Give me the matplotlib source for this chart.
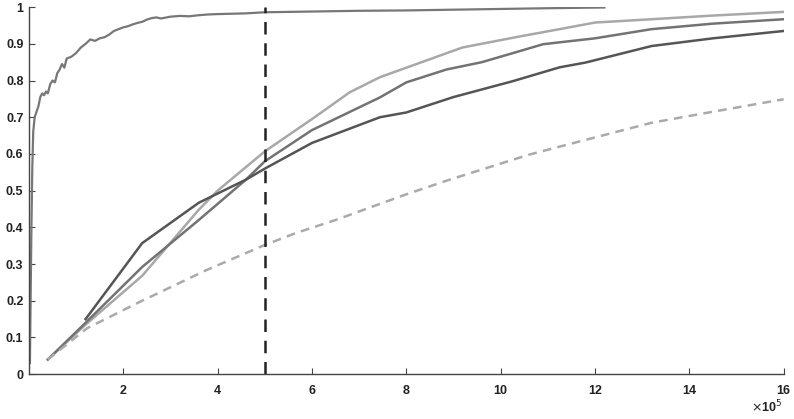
import numpy as np
import matplotlib
matplotlib.use("Agg")
import matplotlib.pyplot as plt

# top curve (noisy, saturates near 1)
top_x = [0.02, 0.03, 0.05, 0.07, 0.09, 0.12, 0.16, 0.2, 0.24, 0.28, 0.32, 0.36, 0.4, 0.45, 0.5,
         0.55, 0.6, 0.65, 0.7, 0.75, 0.8, 0.9, 1.0, 1.1, 1.2, 1.3, 1.4, 1.5, 1.6, 1.7, 1.8, 1.9,
         2.0, 2.1, 2.2, 2.3, 2.4, 2.5, 2.6, 2.7, 2.8, 3.0, 3.2, 3.4, 3.6, 3.8, 4.0, 4.3, 4.6,
         5.0, 6.0, 7.0, 8.0, 9.0, 10.0, 11.0, 12.2]
top_y = [0.03, 0.15, 0.38, 0.56, 0.66, 0.70, 0.715, 0.73, 0.755, 0.765, 0.76, 0.77, 0.765, 0.79, 0.80,
         0.795, 0.82, 0.83, 0.845, 0.835, 0.86, 0.865, 0.875, 0.89, 0.90, 0.912, 0.908, 0.915, 0.918, 0.925, 0.935, 0.94,
         0.945, 0.948, 0.953, 0.957, 0.96, 0.966, 0.97, 0.972, 0.969, 0.974, 0.976, 0.975, 0.978, 0.98, 0.981, 0.982, 0.983,
         0.986, 0.988, 0.99, 0.991, 0.993, 0.995, 0.997, 0.999]

light_x = [0.4, 1.2, 2.4, 3.6, 4.0, 5.0, 6.0, 6.8, 7.44, 8.0, 9.19, 10.4, 11.25, 12.0, 13.2, 14.5, 16.0]
light_y = [0.04, 0.135, 0.268, 0.448, 0.50, 0.607, 0.695, 0.768, 0.809, 0.835, 0.89, 0.92, 0.94, 0.958, 0.967, 0.977, 0.987]

mid_x = [0.4, 1.2, 2.4, 3.6, 4.6, 5.0, 6.0, 7.44, 8.0, 8.85, 9.6, 10.4, 10.9, 12.0, 13.2, 14.5, 16.0]
mid_y = [0.04, 0.14, 0.292, 0.42, 0.53, 0.58, 0.665, 0.754, 0.795, 0.83, 0.85, 0.88, 0.899, 0.915, 0.94, 0.955, 0.967]

dark_x = [1.2, 2.4, 3.6, 4.6, 5.0, 6.0, 7.44, 8.0, 9.0, 10.25, 11.25, 11.8, 13.2, 14.5, 16.0]
dark_y = [0.15, 0.357, 0.467, 0.53, 0.56, 0.63, 0.70, 0.713, 0.755, 0.798, 0.836, 0.849, 0.894, 0.915, 0.935]

dash_x = [0.4, 1.23, 2.35, 3.77, 5.0, 5.67, 6.5, 8.0, 8.92, 10.6, 12.0, 13.2, 14.5, 16.0]
dash_y = [0.04, 0.125, 0.197, 0.284, 0.352, 0.385, 0.42, 0.49, 0.53, 0.598, 0.645, 0.685, 0.715, 0.749]

vline_x = 5.0

plt.rcParams["font.family"] = ["Liberation Sans", "DejaVu Sans"]

fig = plt.figure(figsize=(7.94, 4.19), dpi=100)
ax = fig.add_axes([0.0365, 0.107, 0.9505, 0.876])

ax.plot(top_x, top_y, color="#777777", lw=1.6)
ax.plot(light_x, light_y, color="#a8a8a8", lw=1.8)
ax.plot(mid_x, mid_y, color="#737373", lw=1.8)
ax.plot(dark_x, dark_y, color="#555555", lw=1.8)
ax.plot(dash_x, dash_y, color="#aaaaaa", lw=1.8, ls=(0, (3.5, 2.5)))
ax.axvline(vline_x, color="#222222", lw=1.8, ls=(0, (5, 3.5)))

ax.set_xlim(0, 16)
ax.set_ylim(0, 1)
ax.set_xticks(np.arange(2, 17, 2))
ax.set_xticklabels([str(v) for v in range(2, 17, 2)])
ax.set_yticks(np.arange(0, 1.01, 0.1))
ax.set_yticklabels(["0"] + [f"{v/10:g}" for v in range(1, 10)] + ["1"])

for side in ["top", "right"]:
    ax.spines[side].set_visible(False)
for side in ["left", "bottom"]:
    ax.spines[side].set_color("#444444")
    ax.spines[side].set_linewidth(1.0)

ax.tick_params(direction="in", length=4, color="#444444", labelsize=9, labelcolor="#222222")
for lbl in ax.get_xticklabels() + ax.get_yticklabels():
    lbl.set_fontweight("bold")
ax.tick_params(axis="x", pad=8)
ax.tick_params(axis="y", pad=4)

fig.text(0.985, 0.008, r"$\times$10$^5$", ha="right", va="bottom", fontsize=9, color="#222222",
         fontweight="bold")

fig.savefig("out.png", dpi=100)
